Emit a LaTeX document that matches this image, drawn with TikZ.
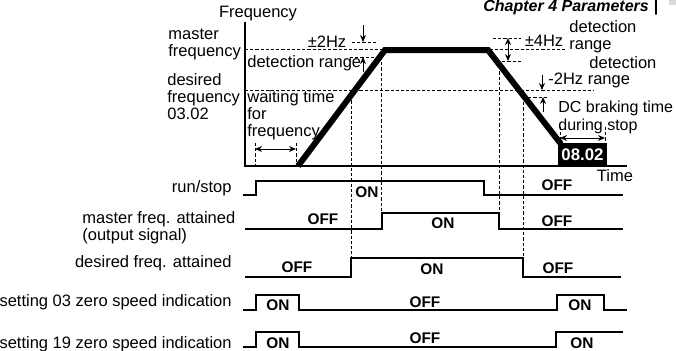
\documentclass[tikz,border=0pt]{standalone}
\usepackage{fontspec}
\setmainfont{Liberation Sans}
\usetikzlibrary{arrows.meta}
\begin{document}
\begin{tikzpicture}[x=0.5pt,y=-0.5pt,
  lbl/.style={inner sep=0pt, font=\fontsize{8.25}{8.5}\selectfont},
  st/.style={inner sep=0pt, font=\bfseries\fontsize{7.7}{8}\selectfont},
  dsh/.style={dash pattern=on 1.6pt off 1pt, line width=0.45pt},
  sig/.style={line width=1.2pt, line join=miter},
  arr/.style={-{Stealth[length=3.5pt,width=3pt]}, line width=0.5pt},
  darr/.style={{Stealth[length=3.5pt,width=3pt]}-{Stealth[length=3.5pt,width=3pt]}, line width=0.5pt},
]
\useasboundingbox (0,0) rectangle (676,350);

% header
\node[inner sep=0pt, anchor=base west, font=\bfseries\itshape\fontsize{8}{8}\selectfont] (hdr) at (483,11) {Chapter 4 Parameters};
\node[inner sep=0pt, anchor=base, font=\bfseries\fontsize{8}{8}\selectfont] (bar) at (656,11) {|};
\fill[gray!30] (669,0) rectangle (676,5);

% dashed guide lines
\draw[dsh] (245,49) -- (565,49);
\draw[dsh] (245,90) -- (594,90);
\draw[dsh] (352,42) -- (378,42);
\draw[dsh] (350,57) -- (378,57);
\draw[dsh] (493,38) -- (521,38);
\draw[dsh] (497,61) -- (521,61);
\draw[dsh] (523,97) -- (547,97);
\draw[dsh] (381,57) -- (381,213);
\draw[dsh] (351,90) -- (351,258);
\draw[dsh] (499,61) -- (499,213);
\draw[dsh] (523,97) -- (523,258);
\draw[dsh] (255,143) -- (255,166);
\draw[dsh] (296,143) -- (296,166);
\draw[dsh] (560,127) -- (560,143);
\draw[dsh] (605,127) -- (605,143);

% axes
\draw[line width=0.9pt] (245,22) -- (245,166) -- (627,166);

% frequency profile
\draw[line width=3pt, line join=miter] (298,166) -- (385,50) -- (488,50) -- (561,144);

% DC braking box
\fill (558,143) rectangle (607,166);
\node[inner sep=0pt, text=white, font=\bfseries\fontsize{8.4}{8.4}\selectfont] (dcb) at (582.5,155) {08.02};

% arrows
\draw[arr] (363,25) -- (363,42);
\draw[arr] (363,72) -- (363,57);
\draw[darr] (508,38) -- (508,61);
\draw[arr] (542,75) -- (542,90);
\draw[arr] (543,112) -- (543,97);
\draw[darr] (255,149) -- (296,149);
\draw[darr] (560,138) -- (605,138);

% labels of chart
\node[lbl] (freq) at (258,14) {Frequency};
\node[lbl, align=left, anchor=north west] (mf) at (168,28) {master\\frequency};
\node[lbl, align=left, anchor=north west] (df) at (167,73) {desired\\frequency\\03.02};
\node[lbl] (pm2) at (327,42) {±2Hz};
\node[lbl, anchor=west] (dr1) at (247,63) {detection range};
\node[lbl, align=left, anchor=north west] (wt) at (247,90) {waiting time\\for\\frequency};
\node[lbl] (pm4) at (544,41) {±4Hz};
\node[lbl, align=left, anchor=north west] (dr2) at (569,20) {detection\\range};
\node[lbl, anchor=west] (dr3) at (589,63) {detection};
\node[lbl, anchor=west] (m2) at (548,80) {-2Hz range};
\node[inner sep=0pt, font=\fontsize{8}{9}\selectfont, align=left, anchor=north west] (dcl) at (558,100) {DC braking time\\during stop};
\node[lbl] (time) at (615,176) {Time};

% timing labels
\node[lbl, anchor=east] (l1) at (232,188) {run/stop};
\node[lbl, align=left, anchor=north west] (l2) at (82,211) {master freq. attained\\(output signal)};
\node[lbl, anchor=east] (l3) at (232,263) {desired freq. attained};
\node[lbl, anchor=east] (l4) at (232,302) {setting 03 zero speed indication};
\node[lbl, anchor=east] (l5) at (232,344) {setting 19 zero speed indication};

% signals
\draw[sig] (243,195) -- (256,195) -- (256,181) -- (484,181) -- (484,195) -- (623,195);
\node[st] (s1a) at (367,192) {ON};
\node[st] (s1b) at (557,185) {OFF};

\draw[sig] (245,229) -- (382,229) -- (382,213) -- (499,213) -- (499,229) -- (623,229);
\node[st] (s2a) at (323,219) {OFF};
\node[st] (s2b) at (443,223) {ON};
\node[st] (s2c) at (557,221) {OFF};

\draw[sig] (245,277) -- (351,277) -- (351,258) -- (523,258) -- (523,277) -- (621,277);
\node[st] (s3a) at (297,267) {OFF};
\node[st] (s3b) at (432,269) {ON};
\node[st] (s3c) at (558,268) {OFF};

\draw[sig] (243,310) -- (256,310) -- (256,295) -- (299,295) -- (299,310) -- (557,310) -- (557,295) -- (604,295) -- (604,310) -- (627,310);
\node[st] (s4a) at (278,305) {ON};
\node[st] (s4b) at (425,302) {OFF};
\node[st] (s4c) at (580,305) {ON};

\draw[sig] (243,347) -- (256,347) -- (256,332) -- (299,332) -- (299,347) -- (556,347) -- (556,332) -- (623,332);
\node[st] (s5a) at (278,343) {ON};
\node[st] (s5b) at (425,338) {OFF};
\node[st] (s5c) at (582,343) {ON};
\end{tikzpicture}
\end{document}
